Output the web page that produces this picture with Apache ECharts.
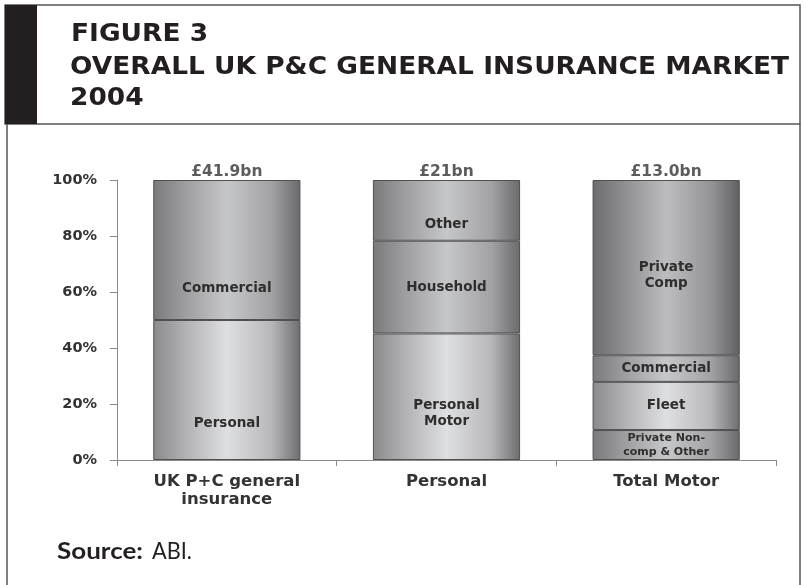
<!DOCTYPE html>
<html>
<head>
<meta charset="utf-8">
<script src="https://cdn.jsdelivr.net/npm/echarts@6/dist/echarts.min.js"></script>
<style>
html,body{margin:0;padding:0;background:#fff;}
#chart{width:806px;height:585px;}
</style>
</head>
<body>
<div id="chart"></div>
<script>
// ---- data ----
const categories = ['UK P+C general\ninsurance', 'Personal', 'Total Motor'];
const totals = ['£41.9bn', '£21bn', '£13.0bn'];
const ukSegments = ['Personal', 'Commercial'];
const ukShares = [50, 50];
const personalSegments = ['Personal\nMotor', 'Household', 'Other'];
const personalShares = [45.2, 33.1, 21.7];
const motorSegments = ['Private Non-\ncomp & Other', 'Fleet', 'Commercial', 'Private\nComp'];
const motorShares = [10.7, 17.2, 9.5, 62.6];
const yTickValues = [0, 20, 40, 60, 80, 100];
const titleLines = ['FIGURE 3', 'OVERALL UK P&C GENERAL INSURANCE MARKET', '2004'];
const sourceLabel = 'Source:';
const sourceText = 'ABI.';

// ---- styles (kept apart from data) ----
const FONT = '"DejaVu Sans", Verdana, sans-serif';
const shadeStops = {
  light: ['#8a8a8c', '#b2b2b4', '#dedfe1', '#b8b8ba', '#6e6e70'],
  mid:   ['#7a7a7c', '#9e9ea0', '#c6c7c9', '#a3a3a5', '#6a6a6c'],
  dark:  ['#6c6c6e', '#909092', '#bdbdbf', '#959597', '#606062']
};
const barShades = [['light', 'mid'], ['light', 'mid', 'mid'], ['mid', 'light', 'mid', 'dark']];
const labelShift = [[33, 38], [17, 0, 14], [0, 0, 0, 8]];
const labelSize = [[13.5, 13.5], [13.5, 13.5, 13.5], [11, 13.5, 13.5, 13.5]];

function grad(name) {
  const s = shadeStops[name];
  const pos = [0, 0.22, 0.5, 0.8, 1];
  return new echarts.graphic.LinearGradient(0, 0, 1, 0,
    s.map((c, i) => ({ offset: pos[i], color: c })));
}

const measureCtx = document.createElement('canvas').getContext('2d');
function textWidth(text, font) {
  measureCtx.font = font;
  return measureCtx.measureText(text).width;
}
function fitted(text, font, x, y, scale, color) {
  return {
    type: 'text', x: x, y: y, scaleX: scale, z: 12,
    style: { text: text, x: 0, y: 0, font: font, fill: color, verticalAlign: 'top', align: 'left' }
  };
}

const segNames = [ukSegments, personalSegments, motorSegments];
const segVals = [ukShares, personalShares, motorShares];
const levels = Math.max(...segVals.map(a => a.length));

const series = [];
for (let lv = 0; lv < levels; lv++) {
  series.push({
    type: 'bar',
    stack: 'all',
    barWidth: '67%',
    data: categories.map((c, ci) => {
      if (lv >= segVals[ci].length) return '-';
      return {
        value: segVals[ci][lv],
        itemStyle: { color: grad(barShades[ci][lv]), borderColor: '#505052', borderWidth: 1 },
        label: {
          show: true,
          position: 'inside',
          formatter: segNames[ci][lv],
          offset: [0, labelShift[ci][lv]],
          fontSize: labelSize[ci][lv],
          lineHeight: labelSize[ci][lv] + 3,
          fontWeight: 'bold',
          fontFamily: FONT,
          color: '#2e2e2e'
        }
      };
    })
  });
}
series.push({
  type: 'scatter',
  symbolSize: 0,
  data: segVals.map(a => a.reduce((s, v) => s + v, 0)),
  label: {
    show: true,
    position: 'top',
    distance: 0,
    formatter: p => totals[p.dataIndex],
    fontSize: 15.5,
    fontWeight: 'bold',
    fontFamily: FONT,
    color: '#333'
  },
  silent: true
});

const titleFont = 'bold 24px "DejaVu Sans", sans-serif';
const titleScale = 719 / textWidth(titleLines[1], titleFont);
const srcBoldFont = 'bold 23px Lato, sans-serif';
const srcFont = '23px Lato, sans-serif';
const srcBoldScale = 86 / textWidth(sourceLabel, srcBoldFont);
const srcScale = 40 / textWidth(sourceText, srcFont);

const chart = echarts.init(document.getElementById('chart'), null, { renderer: 'canvas' });
chart.setOption({
  animation: false,
  backgroundColor: '#fff',
  grid: { left: 117, right: 30, top: 180, bottom: 125 },
  xAxis: {
    type: 'category',
    data: categories,
    axisLine: { lineStyle: { color: '#8a8a8a', width: 1 } },
    axisTick: { show: true, length: 6, interval: 0, lineStyle: { color: '#8a8a8a' } },
    axisLabel: {
      interval: 0, margin: 13, fontSize: 16.5, lineHeight: 18, fontWeight: 'bold',
      fontFamily: FONT, color: '#333'
    }
  },
  yAxis: {
    type: 'value',
    min: yTickValues[0],
    max: yTickValues[yTickValues.length - 1],
    interval: yTickValues[1] - yTickValues[0],
    axisLine: { show: true, lineStyle: { color: '#8a8a8a', width: 1 } },
    axisTick: { show: true, length: 7, lineStyle: { color: '#8a8a8a' } },
    splitLine: { show: false },
    axisLabel: {
      formatter: '{value}%', margin: 20, fontSize: 14.5, fontWeight: 'bold',
      fontFamily: FONT, color: '#333'
    }
  },
  series: series,
  graphic: [
    { type: 'rect', shape: { x: 5, y: 5, width: 795, height: 119 }, style: { fill: 'none', stroke: '#555', lineWidth: 1.5 }, z: 10 },
    { type: 'rect', shape: { x: 5, y: 5, width: 32, height: 119 }, style: { fill: '#231f20' }, z: 11 },
    { type: 'line', shape: { x1: 7, y1: 124, x2: 7, y2: 590 }, style: { stroke: '#555', lineWidth: 1.5 }, z: 10 },
    { type: 'line', shape: { x1: 800, y1: 124, x2: 800, y2: 590 }, style: { stroke: '#555', lineWidth: 1.5 }, z: 10 },
    fitted(titleLines[0], titleFont, 71, 23, titleScale, '#231f20'),
    fitted(titleLines[1], titleFont, 70, 56, titleScale, '#231f20'),
    fitted(titleLines[2], titleFont, 70, 87, titleScale, '#231f20'),
    fitted(sourceLabel, srcBoldFont, 57, 540, srcBoldScale, '#231f20'),
    fitted(sourceText, srcFont, 152, 540, srcScale, '#231f20')
  ]
});
</script>
</body>
</html>
